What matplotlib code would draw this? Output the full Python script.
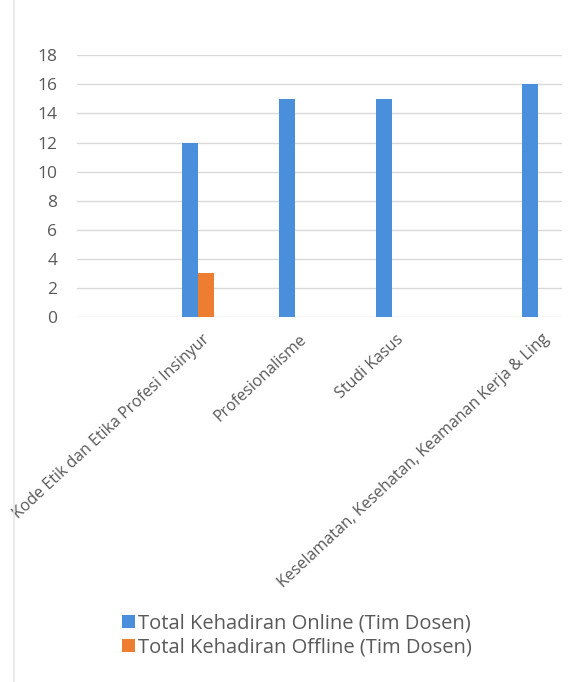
import matplotlib
matplotlib.use("Agg")
import matplotlib.pyplot as plt
import numpy as np
from matplotlib.lines import Line2D

# --- data ---------------------------------------------------------------------
categories = ["", "", "Kode Etik dan Etika Profesi Insinyur", "", "Profesionalisme",
              "", "Studi Kasus", "", "", "Keselamatan, Kesehatan, Keamanan Kerja & Ling"]
online = [0, 0, 12, 0, 15, 0, 15, 0, 0, 16]
offline = [0, 0, 3, 0, 0, 0, 0, 0, 0, 0]
series_names = ["Total Kehadiran Online (Tim Dosen)", "Total Kehadiran Offline (Tim Dosen)"]
yticks = [0, 2, 4, 6, 8, 10, 12, 14, 16, 18]

BLUE = "#4A8FDB"
ORANGE = "#ED7D31"
TEXT = "#595959"
GRID = "#D9D9D9"

plt.rcParams["font.family"] = ["Open Sans", "DejaVu Sans"]

fig = plt.figure(figsize=(5.73, 6.82), dpi=100)
ax = fig.add_axes([0.134, 0.535, 0.847, 0.384])

x = np.arange(len(categories))
w = 0.33
ax.bar(x - w / 2, online, w, color=BLUE, label=series_names[0], zorder=3)
ax.bar(x + w / 2, offline, w, color=ORANGE, label=series_names[1], zorder=3)

ax.set_xlim(-0.5, len(categories) - 0.5)
ax.set_ylim(0, 18)
ax.set_yticks(yticks)
ax.yaxis.grid(True, color=GRID, lw=1.0, zorder=0)
ax.set_axisbelow(True)
for s in ax.spines.values():
    s.set_visible(False)
ax.tick_params(axis="both", length=0, colors=TEXT)
ax.tick_params(axis="y", labelsize=12.5, pad=14)

ax.set_xticks(x + 0.08)
ax.set_xticklabels(categories, rotation=43, ha="right", rotation_mode="anchor",
                   fontsize=11.5, color=TEXT)
ax.tick_params(axis="x", pad=10)

leg = fig.legend(loc="upper left", bbox_to_anchor=(0.198, 0.112), frameon=False,
                 fontsize=14.5, handlelength=0.65, handleheight=0.65,
                 handletextpad=0.15, labelspacing=0.2, borderaxespad=0)
for t in leg.get_texts():
    t.set_color(TEXT)

# faint chart-area border on the left
fig.add_artist(Line2D([0.024, 0.024], [0.0, 1.0], color="#E6E6E6", lw=1.2,
                      transform=fig.transFigure))

fig.savefig("out.png", dpi=100)
